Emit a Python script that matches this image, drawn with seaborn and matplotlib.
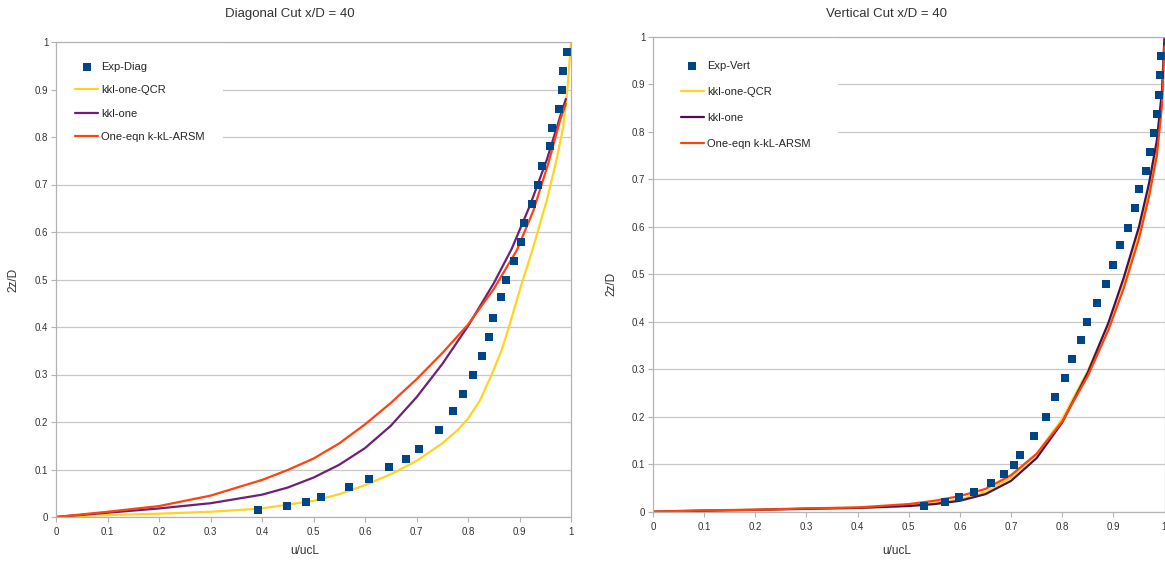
import matplotlib
matplotlib.use("Agg")
import matplotlib.pyplot as plt
import seaborn as sns
import numpy as np

# ---- Diagonal cut x/D = 40 ----
diag_exp_x = [0.392, 0.449, 0.486, 0.514, 0.568, 0.608, 0.647, 0.679, 0.704, 0.743,
              0.770, 0.791, 0.810, 0.828, 0.840, 0.848, 0.864, 0.874, 0.889, 0.902,
              0.909, 0.925, 0.935, 0.944, 0.959, 0.964, 0.977, 0.983, 0.985, 0.992]
diag_exp_y = [0.015, 0.023, 0.032, 0.042, 0.064, 0.081, 0.105, 0.122, 0.143, 0.183,
              0.223, 0.260, 0.300, 0.339, 0.378, 0.420, 0.463, 0.500, 0.538, 0.579,
              0.620, 0.659, 0.700, 0.740, 0.781, 0.818, 0.859, 0.900, 0.940, 0.980]

diag_qcr_x = [0, 0.1, 0.2, 0.3, 0.4, 0.5, 0.55, 0.6, 0.65, 0.7, 0.75, 0.78, 0.8,
              0.823, 0.846, 0.865, 0.878, 0.904, 0.925, 0.953, 0.972, 0.985, 0.993, 1.0]
diag_qcr_y = [0, 0.004, 0.007, 0.011, 0.018, 0.034, 0.048, 0.067, 0.090, 0.118, 0.155, 0.183, 0.207,
              0.245, 0.300, 0.350, 0.395, 0.490, 0.562, 0.667, 0.752, 0.822, 0.900, 1.0]

diag_kkl_x = [0, 0.1, 0.2, 0.3, 0.4, 0.45, 0.5, 0.55, 0.6, 0.65,
              0.7, 0.75, 0.8, 0.85, 0.885, 0.92, 0.953, 0.979, 0.99]
diag_kkl_y = [0, 0.009, 0.018, 0.029, 0.047, 0.062, 0.083, 0.110, 0.145, 0.192,
              0.252, 0.322, 0.402, 0.492, 0.565, 0.655, 0.752, 0.843, 0.88]

diag_arsm_x = [0, 0.1, 0.2, 0.3, 0.4, 0.45, 0.5, 0.55, 0.6, 0.65, 0.7, 0.75,
               0.8, 0.85, 0.895, 0.927, 0.956, 0.979, 0.99]
diag_arsm_y = [0, 0.011, 0.023, 0.045, 0.078, 0.099, 0.123, 0.155, 0.195, 0.240, 0.290, 0.345,
               0.405, 0.480, 0.562, 0.645, 0.745, 0.836, 0.87]

# ---- Vertical cut x/D = 40 ----
vert_exp_x = [0.530, 0.571, 0.599, 0.628, 0.661, 0.686, 0.706, 0.718, 0.744, 0.768,
              0.786, 0.805, 0.820, 0.836, 0.849, 0.869, 0.885, 0.899, 0.913, 0.929,
              0.942, 0.951, 0.963, 0.971, 0.979, 0.985, 0.989, 0.991, 0.993]
vert_exp_y = [0.012, 0.021, 0.032, 0.041, 0.060, 0.079, 0.099, 0.120, 0.159, 0.200,
              0.241, 0.281, 0.321, 0.361, 0.399, 0.439, 0.480, 0.519, 0.561, 0.598,
              0.639, 0.679, 0.717, 0.758, 0.798, 0.837, 0.877, 0.919, 0.959]

vert_x = [0, 0.1, 0.2, 0.3, 0.4, 0.5, 0.55, 0.6, 0.65, 0.7,
          0.75, 0.8, 0.85, 0.89, 0.92, 0.95, 0.97, 0.985, 0.995, 1.0]
vert_qcr_y = [0, 0.003, 0.004, 0.007, 0.008, 0.013, 0.018, 0.026, 0.041, 0.072,
              0.122, 0.195, 0.297, 0.395, 0.485, 0.590, 0.680, 0.765, 0.870, 1.0]
vert_kkl_y = [0, 0.002, 0.004, 0.006, 0.008, 0.012, 0.016, 0.023, 0.037, 0.065,
              0.113, 0.188, 0.293, 0.397, 0.492, 0.600, 0.693, 0.782, 0.885, 1.0]
vert_arsm_y = [0, 0.003, 0.004, 0.007, 0.009, 0.016, 0.023, 0.033, 0.048, 0.077,
               0.122, 0.190, 0.286, 0.382, 0.470, 0.575, 0.665, 0.750, 0.855, 0.98]

ticks = [round(0.1 * i, 1) for i in range(11)]
tick_labels = [f"{t:g}" for t in ticks]

BLUE = "#004586"
YELLOW = "#ffd320"
RED = "#ff420e"

sns.set_theme(style="white")
plt.rcParams['font.family'] = ['Liberation Sans', 'DejaVu Sans']

W, H = 1165, 565
fig = plt.figure(figsize=(W / 100, H / 100), dpi=100)
ax1 = fig.add_axes([56 / W, 48 / H, 515 / W, 475 / H])
ax2 = fig.add_axes([653 / W, 53.3 / H, 511.5 / W, 474.7 / H])


def draw(ax, ex, ey, exp_label, qx, qy, kx, ky, ax_, ay, purple):
    sns.scatterplot(x=ex, y=ey, ax=ax, marker="s", s=30, color=BLUE,
                    linewidth=0, label=exp_label, zorder=4)
    sns.lineplot(x=qx, y=qy, ax=ax, color=YELLOW, lw=1.6, label="kkl-one-QCR",
                 sort=False, estimator=None, zorder=3)
    sns.lineplot(x=kx, y=ky, ax=ax, color=purple, lw=1.6, label="kkl-one",
                 sort=False, estimator=None, zorder=3)
    sns.lineplot(x=ax_, y=ay, ax=ax, color=RED, lw=1.6, label="One-eqn k-kL-ARSM",
                 sort=False, estimator=None, zorder=3)

    ax.set_xlim(0, 1)
    ax.set_ylim(0, 1)
    ax.set_xticks(ticks)
    ax.set_xticklabels(tick_labels)
    ax.set_yticks(ticks)
    ax.set_yticklabels(tick_labels)
    ax.yaxis.grid(True, color="#c8c8c8", lw=0.9)
    ax.xaxis.grid(False)
    ax.set_axisbelow(True)
    for sp in ax.spines.values():
        sp.set_color("#b3b3b3")
        sp.set_linewidth(0.9)
        sp.set_zorder(6)   # keep the frame visible above the legend box
    ax.tick_params(axis="both", bottom=True, left=True, length=3.5, width=0.8,
                   color="#b3b3b3", labelsize=7, labelcolor="#333333")
    ax.tick_params(axis="x", pad=4)
    ax.tick_params(axis="y", pad=2)
    ax.set_xlabel("u/ucL", fontsize=8.5, color="#333333")
    ax.set_ylabel("2z/D", fontsize=8.5, color="#333333")


draw(ax1, diag_exp_x, diag_exp_y, "Exp-Diag",
     diag_qcr_x, diag_qcr_y, diag_kkl_x, diag_kkl_y, diag_arsm_x, diag_arsm_y,
     "#6d2077")
draw(ax2, vert_exp_x, vert_exp_y, "Exp-Vert",
     vert_x, vert_qcr_y, vert_x, vert_kkl_y, vert_x, vert_arsm_y,
     "#4b0f4f")

ax1.legend(loc="upper left", bbox_to_anchor=(0, 0.998), borderaxespad=0,
           frameon=True, facecolor="white", edgecolor="none", framealpha=1,
           fancybox=False, fontsize=8, handlelength=2.1, handletextpad=0.25,
           labelspacing=1.2, borderpad=1.7)
ax2.legend(loc="upper left", bbox_to_anchor=(0, 1.009), borderaxespad=0,
           frameon=True, facecolor="white", edgecolor="none", framealpha=1,
           fancybox=False, fontsize=8, handlelength=2.1, handletextpad=0.25,
           labelspacing=1.44, borderpad=2.5)

ax1.xaxis.set_label_coords(0.4835, -0.059)
ax1.yaxis.set_label_coords(-0.071, 0.5)
ax2.xaxis.set_label_coords(0.477, -0.070)
ax2.yaxis.set_label_coords(-0.069, 0.48)

fig.text(290 / W, 1 - 14 / H, "Diagonal Cut x/D = 40", ha="center", va="center",
         fontsize=9.5, color="#333333")
fig.text(886 / W, 1 - 14 / H, "Vertical Cut x/D = 40", ha="center", va="center",
         fontsize=9.5, color="#333333")

fig.savefig("out.png", dpi=100, facecolor="white")
